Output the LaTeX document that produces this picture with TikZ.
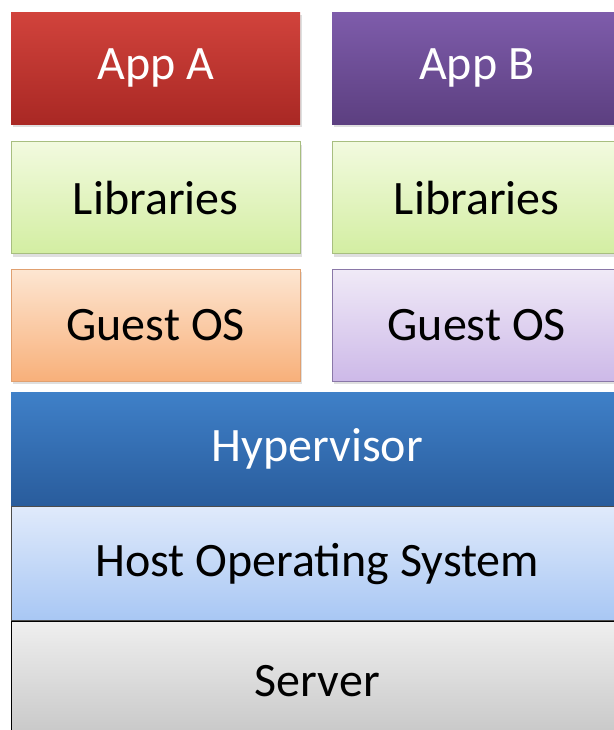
\documentclass[tikz,border=0pt]{standalone}
\usepackage{fontspec}
\setmainfont{Carlito}
\usepackage{tikz}
\usetikzlibrary{positioning,shadows}
\usepackage{xcolor}
\definecolor{appAtop}{HTML}{D1433C}
\definecolor{appAbot}{HTML}{A92824}
\definecolor{appBtop}{HTML}{7E5CAB}
\definecolor{appBbot}{HTML}{5C3F80}
\definecolor{libtop}{HTML}{F2FADF}
\definecolor{libbot}{HTML}{D3EEA2}
\definecolor{libline}{HTML}{A8BE80}
\definecolor{osAtop}{HTML}{FDE6D2}
\definecolor{osAbot}{HTML}{F8B07A}
\definecolor{osAline}{HTML}{E0A070}
\definecolor{osBtop}{HTML}{F0EAF7}
\definecolor{osBbot}{HTML}{CDB9E8}
\definecolor{osBline}{HTML}{8A78A8}
\definecolor{hyptop}{HTML}{3F80C8}
\definecolor{hypbot}{HTML}{295C9C}
\definecolor{hosttop}{HTML}{E0EAFB}
\definecolor{hostbot}{HTML}{A8C7F4}
\definecolor{srvtop}{HTML}{EFEFEF}
\definecolor{srvbot}{HTML}{C6C6C6}

\tikzset{
  layer/.style={rectangle, inner sep=0pt, font=\fontsize{48}{52}\selectfont,
    drop shadow={opacity=0.25, shadow xshift=1.5pt, shadow yshift=-3pt}},
  appbox/.style={layer, minimum width=289pt, minimum height=112pt},
  basebox/.style={layer, minimum width=612pt, minimum height=114pt}
}

\begin{document}
\begin{tikzpicture}[x=1pt,y=1pt]
  \useasboundingbox (0,0) rectangle (613,-730);
  \fill[white] (0,0) rectangle (613,-730);

  % ==========================================================
  %                     GUEST STACKS
  % ==========================================================
  \node[appbox, anchor=north west, top color=appAtop, bottom color=appAbot,
        text=white] (appA) at (11,-12) {App A};
  \node[appbox, anchor=north west, top color=appBtop, bottom color=appBbot,
        text=white] (appB) at (332,-12) {App B};

  \node[appbox, below=17pt of appA, top color=libtop, bottom color=libbot,
        draw=libline] (libA) {Libraries};
  \node[appbox, below=17pt of appB, top color=libtop, bottom color=libbot,
        draw=libline] (libB) {Libraries};

  \node[appbox, below=15pt of libA, top color=osAtop, bottom color=osAbot,
        draw=osAline] (guestA) {Guest OS};
  \node[appbox, below=15pt of libB, top color=osBtop, bottom color=osBbot,
        draw=osBline] (guestB) {Guest OS};

  % ==========================================================
  %                     HOST LAYERS
  % ==========================================================
  \node[basebox, anchor=north west, top color=hyptop, bottom color=hypbot,
        text=white] (hyper) at (11,-392) {Hypervisor};
  \node[basebox, below=0pt of hyper, top color=hosttop, bottom color=hostbot,
        draw=black!70] (host) {Host Operating System};
  \node[basebox, below=0pt of host, top color=srvtop, bottom color=srvbot,
        draw=black, minimum height=120pt] (server) {Server};

\end{tikzpicture}
\end{document}
